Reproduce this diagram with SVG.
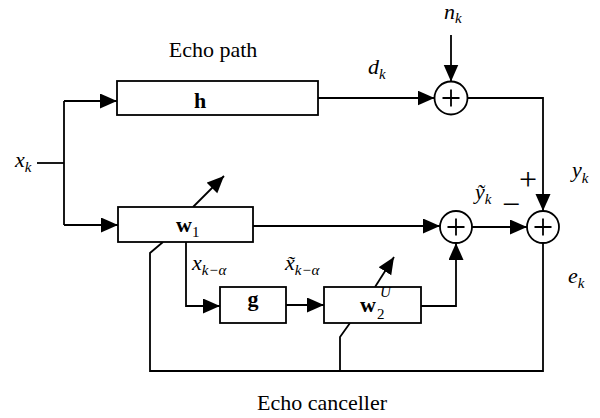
<svg xmlns="http://www.w3.org/2000/svg" width="600" height="418" viewBox="0 0 600 418">
<defs>
<marker id="ah" markerUnits="userSpaceOnUse" markerWidth="20" markerHeight="18" refX="17" refY="7.5" orient="auto">
<path d="M0,0 L17,7.5 L0,15 Z" fill="#000"/>
</marker>
<style>
.box{fill:#fff;stroke:#000;stroke-width:1.8}
.sum{fill:#fff;stroke:#000;stroke-width:1.8}
.ln{fill:none;stroke:#000;stroke-width:1.8}
.arr{fill:none;stroke:#000;stroke-width:1.8;marker-end:url(#ah)}
text{font-family:'Liberation Serif','DejaVu Serif',serif;fill:#000}
.lab{font-size:22px}
.it{font-style:italic}
.bd{font-weight:bold}
.sub{font-size:15px}
.sign{font-size:32px}
</style>
</defs>
<rect width="600" height="418" fill="#fff"/>
<g id="connectors">
<path class="ln" d="M37,163 H64"/>
<path class="ln" d="M64,101 V225"/>
<path class="arr" d="M64,101 H117"/>
<path class="arr" d="M64,225 H118"/>
<path class="arr" d="M318,98 H434.5"/>
<path class="arr" d="M451,35 V81.5"/>
<path class="arr" d="M467.5,98 H543 V211"/>
<path class="arr" d="M253,226 H440"/>
<path class="arr" d="M472,227 H527"/>
<path class="arr" d="M186,242 V306 H220"/>
<path class="arr" d="M286,305 H324"/>
<path class="arr" d="M421,306 H456 V243"/>
<path class="ln" d="M543,243 V371 H150 V253 L163,242"/>
<path class="ln" d="M340,371 V337 L350,323"/>
<path class="arr" d="M193,207 L224,176"/>
<path class="arr" d="M375,287 L394,257"/>
</g>
<g id="node-h">
<rect class="box" x="117" y="81" width="201" height="34"/>
<text class="lab bd" x="200" y="108" text-anchor="middle">h</text>
</g>
<g id="node-w1">
<rect class="box" x="118" y="207" width="135" height="35"/>
<text class="lab bd" x="176" y="232">w<tspan class="sub" font-weight="normal" dy="5">1</tspan></text>
</g>
<g id="node-g">
<rect class="box" x="220" y="287" width="66" height="36"/>
<text class="lab bd" x="253" y="306" text-anchor="middle">g</text>
</g>
<g id="node-w2">
<rect class="box" x="324" y="287" width="97" height="36"/>
<text class="lab bd" x="360" y="312">w</text>
<text class="sub" x="377" y="319">2</text>
<text class="sub it" x="380" y="297">U</text>
</g>
<g id="node-sum1">
<circle class="sum" cx="451" cy="98" r="16.5"/>
<path class="ln" d="M442.5,98 H459.5 M451,89.5 V106.5"/>
</g>
<g id="node-sum2">
<circle class="sum" cx="456" cy="227" r="16"/>
<path class="ln" d="M447.5,227 H464.5 M456,218.5 V235.5"/>
</g>
<g id="node-sum3">
<circle class="sum" cx="543" cy="227" r="16"/>
<path class="ln" d="M534.5,227 H551.5 M543,218.5 V235.5"/>
</g>
<g id="labels">
<text class="lab" x="213" y="57" text-anchor="middle">Echo path</text>
<text class="lab" x="257" y="410">Echo canceller</text>
<text class="lab it" x="15" y="167">x<tspan class="sub" dy="5">k</tspan></text>
<text class="lab it" x="444" y="19">n<tspan class="sub" dy="4">k</tspan></text>
<text class="lab it" x="368" y="74">d<tspan class="sub" dy="5">k</tspan></text>
<text class="lab it" x="572" y="177">y<tspan class="sub" dy="6">k</tspan></text>
<text class="lab it" x="475" y="199">ỹ<tspan class="sub" dy="5">k</tspan></text>
<text class="sign" x="528" y="190" text-anchor="middle">+</text>
<text class="sign" x="511" y="215" text-anchor="middle">−</text>
<text class="lab it" x="192" y="270">x<tspan class="sub" dy="5">k−α</tspan></text>
<text class="lab it" x="285" y="270">x̃<tspan class="sub" dy="5">k−α</tspan></text>
<text class="lab it" x="568" y="283">e<tspan class="sub" dy="5">k</tspan></text>
</g>
</svg>
